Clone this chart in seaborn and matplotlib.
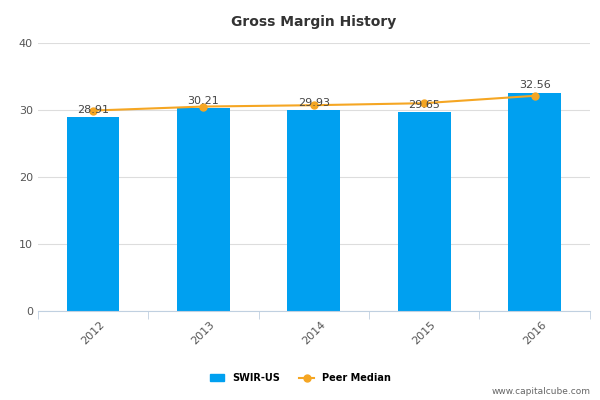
import numpy as np
import pandas as pd
import seaborn as sns
import matplotlib.pyplot as plt

years = ["2012", "2013", "2014", "2015", "2016"]
swir = [28.91, 30.21, 29.93, 29.65, 32.56]
peer = [29.9, 30.5, 30.7, 31.0, 32.1]

df = pd.DataFrame({"year": years, "swir": swir, "peer": peer})

fig, ax = plt.subplots(figsize=(6, 4), dpi=100)
fig.subplots_adjust(left=0.063, right=0.983, top=0.893, bottom=0.222)

sns.barplot(data=df, x="year", y="swir", color="#00a0f0", width=0.48, saturation=1, ax=ax, zorder=2)
x = np.arange(len(years))
ax.plot(x, df["peer"], color="#f5a623", marker="o", markersize=5, linewidth=1.5, zorder=3)

for xi, v in zip(x, swir):
    ax.text(xi, v + 0.4, f"{v:.2f}", ha="center", va="bottom", fontsize=8, color="#444444", zorder=4)

ax.set_ylim(0, 40)
ax.set_xlim(-0.5, 4.5)
ax.set_yticks([0, 10, 20, 30, 40])
ax.grid(axis="y", color="#dddddd", linewidth=0.8, zorder=0)
ax.set_axisbelow(True)
for s in ["top", "right", "left"]:
    ax.spines[s].set_visible(False)
ax.spines["bottom"].set_color("#c0d0e0")
ax.set_xticks(np.arange(-0.5, 5, 1), minor=True)
ax.tick_params(axis="x", which="minor", length=6, color="#c0d0e0")
ax.tick_params(axis="x", which="major", length=0, labelsize=8, labelcolor="#555555", rotation=45, pad=6)
ax.tick_params(axis="y", length=0, labelsize=8, labelcolor="#555555")
ax.set_xlabel("")
ax.set_ylabel("")
ax.set_title("Gross Margin History", fontsize=10, fontweight="bold", color="#333333", pad=12)

from matplotlib.patches import Patch
from matplotlib.lines import Line2D
handles = [Patch(color="#00a0f0", label="SWIR-US"),
           Line2D([], [], color="#f5a623", marker="o", markersize=5, label="Peer Median")]
fig.legend(handles=handles, loc="lower center", bbox_to_anchor=(0.5, 0.02), ncol=2, frameon=False,
           prop={"size": 7, "weight": "bold"}, handlelength=1.5, columnspacing=2)
fig.text(0.985, 0.01, "www.capitalcube.com", ha="right", va="bottom", fontsize=6.5, color="#666666")

plt.savefig("out.png")
